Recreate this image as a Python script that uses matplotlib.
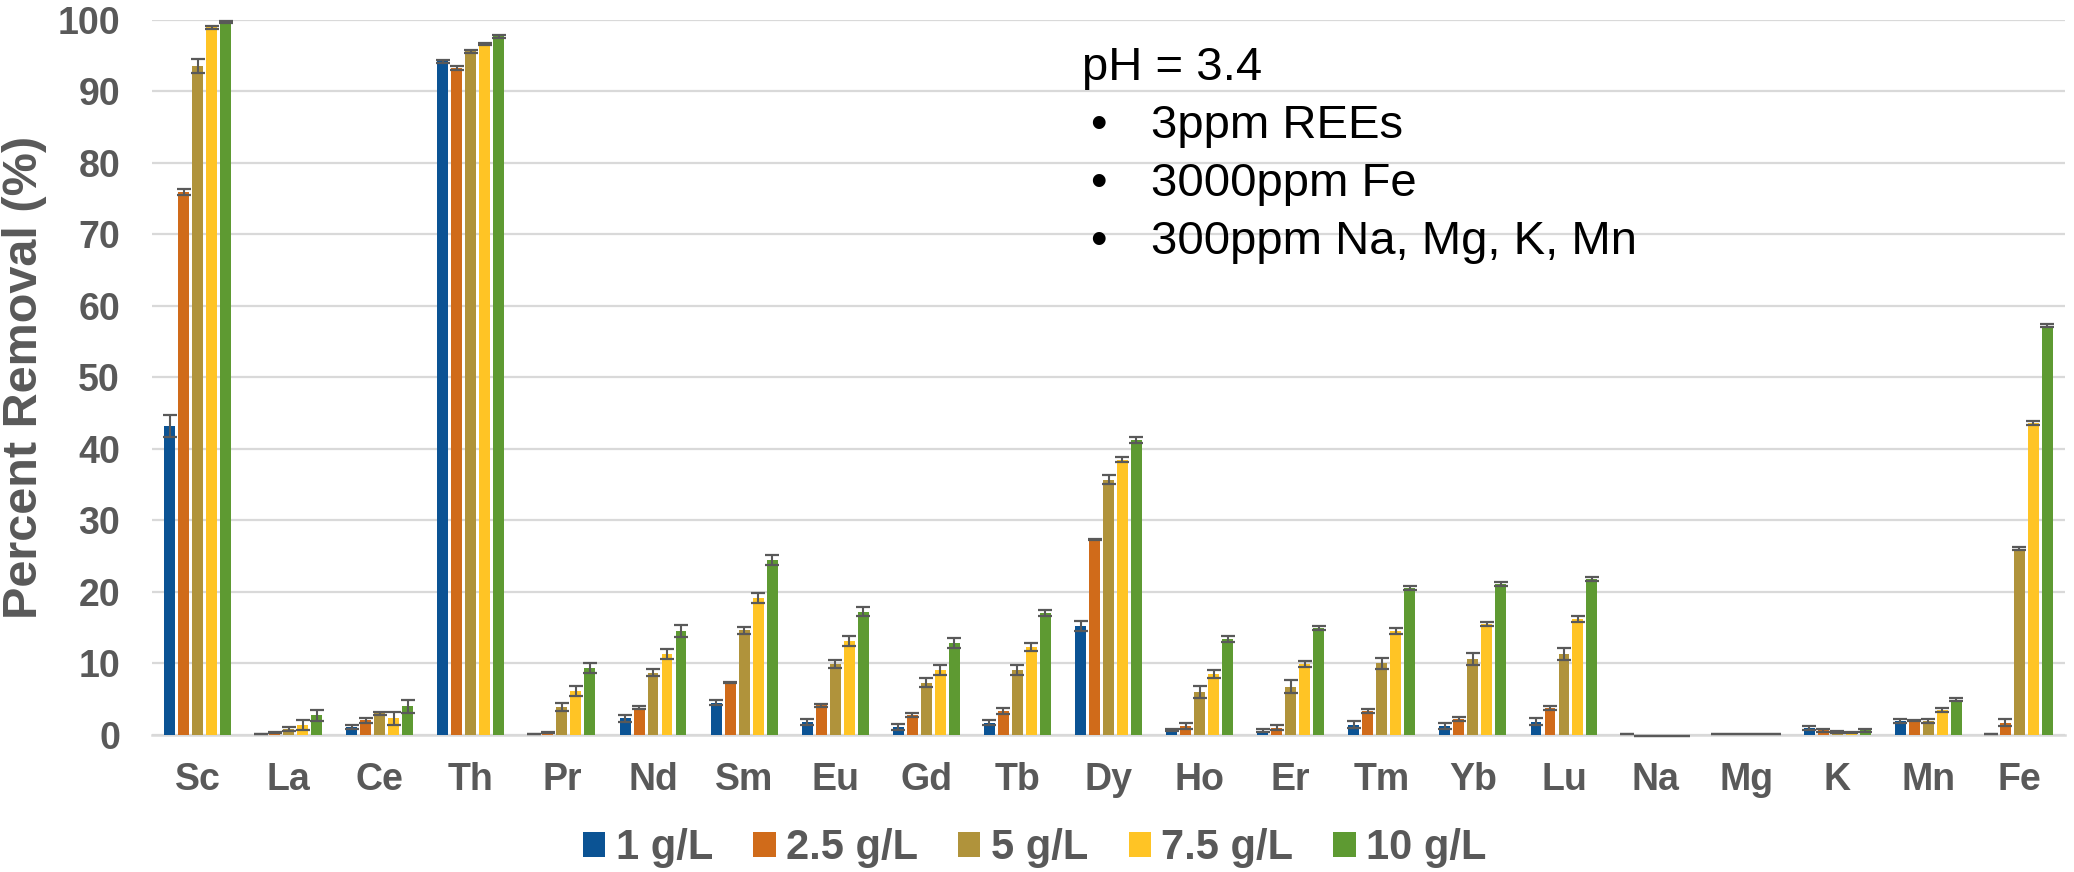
import matplotlib
matplotlib.use("Agg")
import matplotlib.pyplot as plt
import numpy as np

categories = ["Sc", "La", "Ce", "Th", "Pr", "Nd", "Sm", "Eu", "Gd", "Tb", "Dy",
              "Ho", "Er", "Tm", "Yb", "Lu", "Na", "Mg", "K", "Mn", "Fe"]
series_names = ["1 g/L", "2.5 g/L", "5 g/L", "7.5 g/L", "10 g/L"]

v_1 = [43.2, 0.1, 1.1, 94.2, 0.05, 2.3, 4.5, 1.8, 1.1, 1.7, 15.2,
       0.65, 0.55, 1.4, 1.2, 1.8, 0.05, 0.05, 0.9, 1.9, 0.05]
v_2_5 = [75.9, 0.3, 2.0, 93.3, 0.3, 3.8, 7.3, 4.1, 2.8, 3.3, 27.3,
         1.2, 1.0, 3.3, 2.2, 3.7, -0.2, 0.05, 0.6, 2.0, 1.7]
v_5 = [93.6, 0.8, 3.0, 95.6, 3.9, 8.7, 14.6, 9.9, 7.3, 9.0, 35.7,
       6.0, 6.7, 10.0, 10.6, 11.3, -0.2, 0.05, 0.35, 1.9, 26.0]
v_7_5 = [99.0, 1.4, 2.3, 96.7, 6.1, 11.3, 19.1, 13.1, 9.1, 12.3, 38.5,
         8.5, 9.9, 14.5, 15.5, 16.2, -0.2, 0.05, 0.3, 3.5, 43.6]
v_10 = [99.7, 2.7, 4.0, 97.7, 9.4, 14.5, 24.4, 17.2, 12.9, 17.0, 41.2,
        13.4, 14.9, 20.5, 21.1, 21.8, -0.2, 0.05, 0.6, 4.9, 57.2]

e_1 = [1.5, 0.05, 0.3, 0.2, 0.02, 0.5, 0.4, 0.4, 0.4, 0.4, 0.7,
       0.2, 0.2, 0.5, 0.4, 0.5, 0.0, 0.0, 0.3, 0.3, 0.02]
e_2_5 = [0.4, 0.1, 0.4, 0.3, 0.05, 0.2, 0.1, 0.2, 0.3, 0.4, 0.1,
         0.4, 0.3, 0.3, 0.3, 0.3, 0.0, 0.0, 0.2, 0.1, 0.5]
e_5 = [1.0, 0.3, 0.2, 0.15, 0.6, 0.5, 0.5, 0.6, 0.6, 0.7, 0.6,
       0.8, 0.9, 0.8, 0.9, 0.8, 0.0, 0.0, 0.1, 0.3, 0.2]
e_7_5 = [0.2, 0.7, 0.9, 0.15, 0.7, 0.7, 0.7, 0.7, 0.7, 0.6, 0.3,
         0.5, 0.4, 0.4, 0.3, 0.4, 0.0, 0.0, 0.1, 0.3, 0.3]
e_10 = [0.15, 0.8, 0.9, 0.15, 0.7, 0.8, 0.7, 0.6, 0.7, 0.4, 0.4,
        0.4, 0.3, 0.3, 0.3, 0.3, 0.0, 0.0, 0.2, 0.2, 0.2]

values = [v_1, v_2_5, v_5, v_7_5, v_10]
errors = [e_1, e_2_5, e_5, e_7_5, e_10]
colors = ["#0B5394", "#D06B1A", "#B0933B", "#FFC425", "#5E9A32"]

y_ticks = [0, 10, 20, 30, 40, 50, 60, 70, 80, 90, 100]
note_title = "pH = 3.4"
note_items = ["3ppm REEs", "3000ppm Fe", "300ppm Na, Mg, K, Mn"]

TXT = "#595959"
plt.rcParams["font.family"] = ["Liberation Sans", "DejaVu Sans"]

W, H = 2074, 872
fig = plt.figure(figsize=(W / 100, H / 100), dpi=100)
ax = fig.add_axes([152 / W, 1 - 734.7 / H, (2065 - 152) / W, (734.7 - 20) / H])

x = np.arange(len(categories))
pitch = 0.1535
bw = 0.12
handles = []
for j, (vals, errs, c, name) in enumerate(zip(values, errors, colors, series_names)):
    xs = x + (j - 2) * pitch
    b = ax.bar(xs, vals, width=bw, color=c, label=name, zorder=2)
    handles.append(b)
    ax.errorbar(xs, vals, yerr=errs, fmt="none", ecolor="#595959",
                elinewidth=1.5, capsize=4.7, capthick=1.6, zorder=3, clip_on=False)

ax.set_xlim(-0.5, len(categories) - 0.5)
ax.set_ylim(0, 100)
ax.set_yticks(y_ticks)
ax.set_xticks(x)
ax.set_xticklabels(categories)
ax.yaxis.grid(True, color="#D9D9D9", linewidth=1.6, zorder=0)
ax.set_axisbelow(True)
for s in ["top", "right", "left"]:
    ax.spines[s].set_visible(False)
ax.spines["bottom"].set_color("#D9D9D9")
ax.spines["bottom"].set_linewidth(1.8)
ax.spines["bottom"].set_zorder(1)
ax.tick_params(axis="y", length=0, pad=23, labelsize=27, labelcolor=TXT)
ax.tick_params(axis="x", length=0, pad=20, labelsize=27, labelcolor=TXT)
for lab in ax.get_xticklabels() + ax.get_yticklabels():
    lab.set_fontweight("bold")

fig.text(25 / W, 1 - 377 / H, "Percent Removal (%)", rotation=90, ha="center",
         va="center", fontsize=35, fontweight="bold", color=TXT)

# note text
fs_note = 34
fig.text(1082 / W, 1 - 80 / H, note_title, ha="left", va="baseline",
         fontsize=fs_note, color="black")
base_ys = [138, 196, 254]
for yb, item in zip(base_ys, note_items):
    fig.text(1098 / W, 1 - yb / H, "\u2022", ha="center", va="baseline",
             fontsize=fs_note, color="black")
    fig.text(1151 / W, 1 - yb / H, item, ha="left", va="baseline",
             fontsize=fs_note, color="black")

leg = fig.legend(handles=handles, labels=series_names, loc="center",
                 bbox_to_anchor=(1035 / W, 1 - 848 / H), ncol=5, frameon=False,
                 fontsize=30, handlelength=0.53, handleheight=0.53,
                 handletextpad=0.26, columnspacing=0.96, borderpad=0,
                 borderaxespad=0)
for t in leg.get_texts():
    t.set_color(TXT)
    t.set_fontweight("bold")

fig.savefig("out.png", dpi=100)
